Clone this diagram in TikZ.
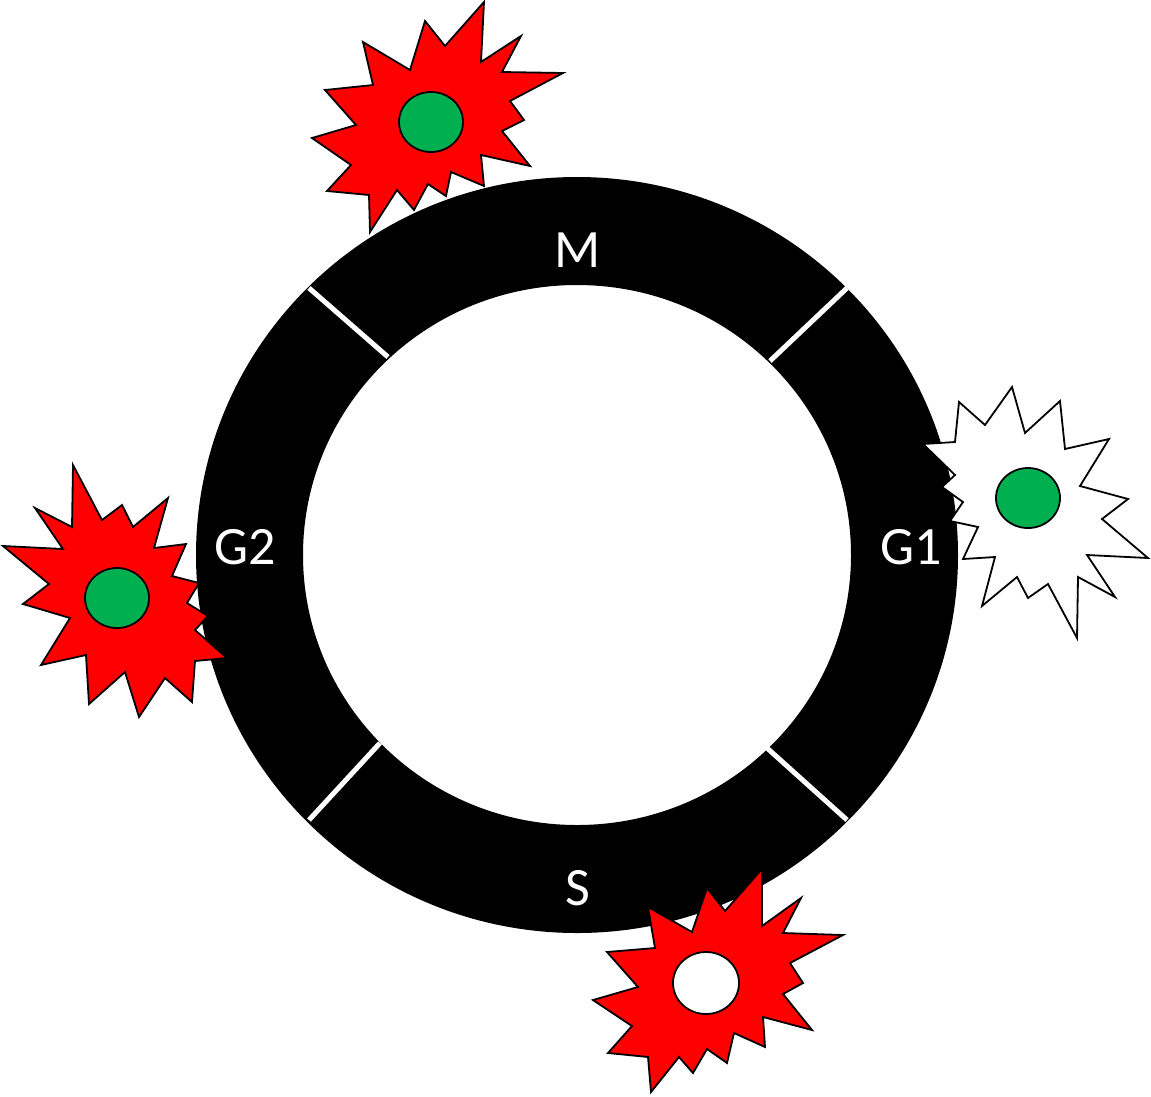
\documentclass[tikz,border=0pt]{standalone}
\usepackage{fontspec}
\setmainfont{Carlito}
\definecolor{redx}{RGB}{255,0,0}
\definecolor{greenx}{RGB}{0,176,80}
\begin{document}
\begin{tikzpicture}[x=1pt,y=-1pt,
  burst/.style={draw=black,line width=1.8pt,line join=miter},
  nucleus/.style={draw=black,line width=1.8pt},
  sep/.style={draw=white,line width=5pt},
  lbl/.style={text=white,font=\fontsize{54}{54}\selectfont,inner sep=0pt}]
\useasboundingbox (0,0) rectangle (1151,1096);
% ring
\fill[black,even odd rule] (577,555) ellipse [x radius=381,y radius=378] (577,555) ellipse [x radius=274,y radius=270];
\draw[sep] (309,288) -- (388,357);
\draw[sep] (847,288) -- (770,361);
\draw[sep] (380,743) -- (309,820);
\draw[sep] (767,748) -- (847,820);
\node[lbl] (M) at (578,250) {M};
\node[lbl] (G1) at (911,547) {G1};
\node[lbl] (S) at (578,888) {S};
\node[lbl] (G2) at (245,547) {G2};
% top star
\filldraw[burst,fill=redx] (363,42)--(410,70)--(425,21)--(445,46)--(484,2)--(481,62)--(521,36)--(502,72)--(563,73)--(510,101)--(524,120)--(502,131)--(530,166)--(481,155)--(484,186)--(451,172)--(446,196)--(428,184)--(414,210)--(397,190)--(370,232)--(369,195)--(327,191)--(351,165)--(312,138)--(356,125)--(325,90)--(373,85)--cycle;
\filldraw[nucleus,fill=greenx] (431,122) ellipse [x radius=32,y radius=30];
% left star
\filldraw[burst,fill=redx] (73,465)--(102,520)--(122,505)--(133,527)--(168,498)--(154,548)--(186,544)--(172,576)--(199,583)--(187,603)--(208,616)--(195,630)--(227,658)--(195,661)--(192,702)--(165,678)--(139,717)--(125,672)--(89,704)--(86,655)--(41,665)--(70,618)--(23,604)--(49,584)--(3,546)--(63,549)--(35,508)--(72,527)--cycle;
\filldraw[nucleus,fill=greenx] (117,598) ellipse [x radius=32,y radius=30];
% right star
\filldraw[burst,fill=white] (1012,387)--(1025,433)--(1060,401)--(1065,449)--(1109,439)--(1080,486)--(1128,499)--(1102,519)--(1148,558)--(1087,555)--(1115,597)--(1078,577)--(1077,638)--(1048,584)--(1028,598)--(1017,577)--(982,606)--(995,557)--(963,559)--(978,527)--(950,521)--(963,502)--(942,487)--(955,475)--(923,444)--(955,442)--(959,402)--(985,425)--cycle;
\filldraw[nucleus,fill=greenx] (1028,498) ellipse [x radius=32,y radius=30];
% bottom star
\filldraw[burst,fill=redx] (762,869)--(762,926)--(801,898)--(783,933)--(843,935)--(790,963)--(803,983)--(783,994)--(812,1030)--(763,1017)--(765,1047)--(734,1033)--(727,1063)--(707,1049)--(693,1073)--(679,1057)--(651,1092)--(648,1057)--(608,1053)--(632,1026)--(593,1000)--(638,987)--(607,952)--(655,948)--(648,907)--(692,932)--(707,888)--(725,911)--cycle;
\filldraw[nucleus,fill=white] (706,983) ellipse [x radius=33,y radius=31];
\end{tikzpicture}
\end{document}
